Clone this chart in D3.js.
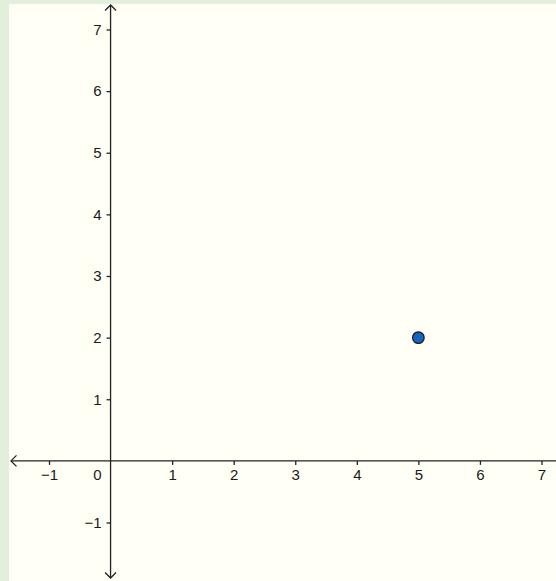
<!DOCTYPE html>
<html>
<head>
<meta charset="utf-8">
<script src="https://cdn.jsdelivr.net/npm/d3@7"></script>
<style>
  html, body { margin: 0; padding: 0; background: #e2efdc; }
  svg { display: block; }
  .tick text { font-family: "Liberation Sans", Arial, sans-serif; font-size: 15px; fill: #1a1a1a; }
</style>
</head>
<body>
<div id="chart"></div>
<script>
var w = 556, h = 581;
var xTicks = [-1, 1, 2, 3, 4, 5, 6, 7];
var yTicks = [-1, 1, 2, 3, 4, 5, 6, 7];
var points = [{x: 5, y: 2}];

var svg = d3.select("#chart").append("svg")
  .attr("width", w)
  .attr("height", h);

// the drawing pad, green strip shows left and top
svg.append("rect")
  .attr("x", 9).attr("y", 4)
  .attr("width", w - 9).attr("height", h - 4)
  .attr("fill", "#fffff6");

var x = d3.scaleLinear().domain([-1, 7]).range([49, 541.5]);
var y = d3.scaleLinear().domain([-1, 7]).range([522.5, 29.5]);

var ox = x(0), oy = y(0);
var axisColor = "#222";

var minus = function(d) { return d < 0 ? "\u2212" + Math.abs(d) : "" + d; };

var xAxis = svg.append("g")
  .attr("transform", "translate(0," + oy + ")")
  .call(d3.axisBottom(x).tickValues(xTicks).tickSize(4).tickPadding(4).tickFormat(minus));
xAxis.select(".domain").remove();

var yAxis = svg.append("g")
  .attr("transform", "translate(" + ox + ",0)")
  .call(d3.axisLeft(y).tickValues(yTicks).tickSize(4).tickPadding(5).tickFormat(minus));
yAxis.select(".domain").remove();

svg.selectAll(".tick line").attr("stroke", axisColor).attr("stroke-width", 1.3);
svg.selectAll(".tick text").attr("fill", "#1a1a1a");

// origin label
svg.append("text")
  .attr("x", ox - 9).attr("y", oy + 8)
  .attr("dy", "0.71em")
  .attr("text-anchor", "end")
  .style("font-family", "'Liberation Sans', Arial, sans-serif")
  .style("font-size", "15px")
  .attr("fill", "#1a1a1a")
  .text("0");

// axis lines with open arrow heads
var xLeft = 11, xRight = w, yTop = 5, yBottom = 578;
svg.append("line").attr("x1", xLeft).attr("x2", xRight).attr("y1", oy).attr("y2", oy)
  .attr("stroke", axisColor).attr("stroke-width", 1.3);
svg.append("line").attr("x1", ox).attr("x2", ox).attr("y1", yTop).attr("y2", yBottom)
  .attr("stroke", axisColor).attr("stroke-width", 1.3);

var a = 5.5;
svg.append("path")
  .attr("d", "M" + (xLeft + a) + "," + (oy - a) + "L" + xLeft + "," + oy + "L" + (xLeft + a) + "," + (oy + a))
  .attr("fill", "none").attr("stroke", axisColor).attr("stroke-width", 1.3);
svg.append("path")
  .attr("d", "M" + (ox - a) + "," + (yTop + a) + "L" + ox + "," + yTop + "L" + (ox + a) + "," + (yTop + a))
  .attr("fill", "none").attr("stroke", axisColor).attr("stroke-width", 1.3);
svg.append("path")
  .attr("d", "M" + (ox - a) + "," + (yBottom - a) + "L" + ox + "," + yBottom + "L" + (ox + a) + "," + (yBottom - a))
  .attr("fill", "none").attr("stroke", axisColor).attr("stroke-width", 1.3);

svg.selectAll("circle.pt")
  .data(points)
  .enter().append("circle")
  .attr("class", "pt")
  .attr("cx", function(d) { return x(d.x); })
  .attr("cy", function(d) { return y(d.y); })
  .attr("r", 5.8)
  .attr("fill", "#1565c0")
  .attr("stroke", "#1a1a1a")
  .attr("stroke-width", 1.2);
</script>
</body>
</html>
